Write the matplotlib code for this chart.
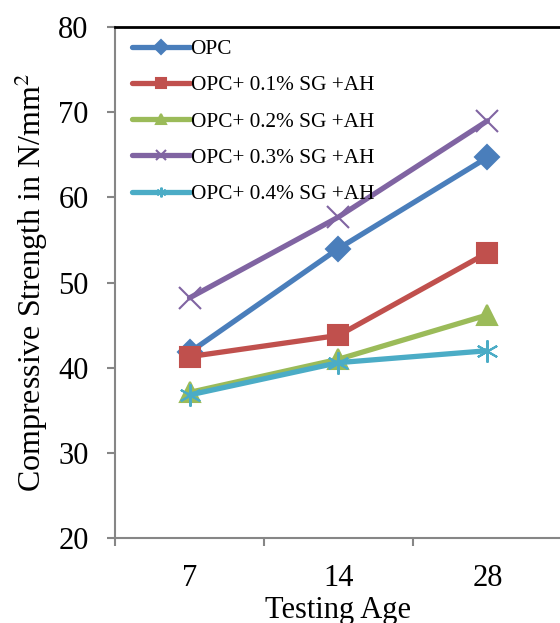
import matplotlib.pyplot as plt

plt.rcParams['font.family'] = ['Liberation Serif', 'DejaVu Serif']
plt.rcParams['mathtext.fontset'] = 'stix'

ages = ['7', '14', '28']
series = ['OPC', 'OPC+ 0.1% SG +AH', 'OPC+ 0.2% SG +AH',
          'OPC+ 0.3% SG +AH', 'OPC+ 0.4% SG +AH']
opc = [41.8, 54.0, 64.7]
sg01 = [41.3, 43.8, 53.5]
sg02 = [37.1, 41.0, 46.2]
sg03 = [48.2, 57.7, 69.0]
sg04 = [36.8, 40.6, 42.0]

colors = ['#4A7EBB', '#C0504D', '#9BBB59', '#8064A2', '#4BACC6']
markers = ['D', 's', '^', 'x', (6, 2, 0)]
msizes = [12, 15, 14, 16, 16]

fig = plt.figure(figsize=(5.6, 6.23), dpi=100)
ax = fig.add_axes([0.2054, 0.1364, 0.798, 0.820])

x = list(range(len(ages)))
for vals, name, c, m, ms in zip([opc, sg01, sg02, sg03, sg04], series, colors, markers, msizes):
    ax.plot(x, vals, color=c, lw=3.8, marker=m, markersize=ms,
            markeredgewidth=1.5, label=name, solid_capstyle='round')

ax.set_xlim(-0.5, 2.5)
ax.set_ylim(20, 80)
ax.set_yticks(range(20, 81, 10))
ax.set_xticks([-0.5, 0.5, 1.5, 2.5])
ax.set_xticklabels([])
ax.set_xticks(x, minor=True)
ax.set_xticklabels(ages, minor=True)
ax.tick_params(axis='x', which='minor', length=0, pad=19, labelsize=22)
ax.tick_params(axis='x', which='major', length=6, width=1.5, color='#868686')
ax.tick_params(axis='y', length=6, width=1.5, color='#868686', labelsize=22, pad=13)

for s in ['left', 'bottom']:
    ax.spines[s].set_color('#868686')
    ax.spines[s].set_linewidth(1.5)
ax.spines['top'].set_color('black')
ax.spines['top'].set_linewidth(2)
ax.spines['right'].set_visible(False)

ax.set_ylabel('Compressive Strength in N/mm$^2$', fontsize=23, labelpad=6)
ax.set_xlabel('Testing Age', fontsize=22, labelpad=2)

leg = ax.legend(loc='upper left', bbox_to_anchor=(0.236, 0.937),
                bbox_transform=fig.transFigure, frameon=False, fontsize=15.3,
                handlelength=2.7, handletextpad=0.05, labelspacing=0.77,
                borderpad=0, borderaxespad=0)
for h in leg.legend_handles:
    h.set_markersize(7)

fig.savefig('out.png', dpi=100)
